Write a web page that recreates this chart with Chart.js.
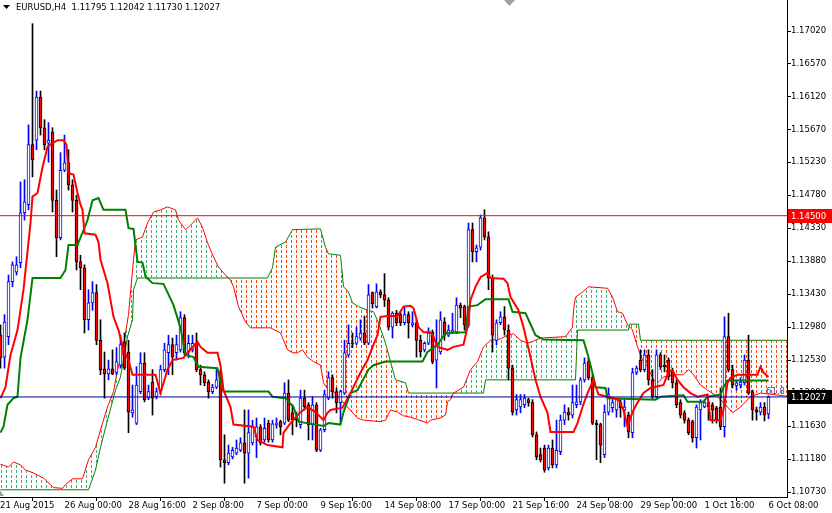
<!DOCTYPE html>
<html>
<head>
<meta charset="utf-8">
<script src="https://cdn.jsdelivr.net/npm/chart.js@4.4.1/dist/chart.umd.min.js"></script>
<style>
  html, body { margin: 0; padding: 0; background: #fff; }
  #c { display: block; }
</style>
</head>
<body>
<canvas id="c" width="832" height="513"></canvas>
<script>
(function () {
  'use strict';

  // ── Data (EURUSD H4, one entry per bar) ──────────────────
  var SYMBOL = 'EURUSD,H4';

  var opens = [
    1.1287, 1.1257, 1.1285, 1.1360, 1.1373, 1.1386, 1.1454, 1.1465, 1.1547, 1.1553,
    1.1612, 1.1570, 1.1549, 1.1564, 1.1471, 1.1420, 1.1512, 1.1522, 1.1492, 1.1471,
    1.1387, 1.1379, 1.1308, 1.1331, 1.1345, 1.1280, 1.1241, 1.1234, 1.1241, 1.1236,
    1.1246, 1.1278, 1.1264, 1.1181, 1.1167, 1.1210, 1.1249, 1.1201, 1.1223, 1.1203,
    1.1210, 1.1240, 1.1263, 1.1274, 1.1263, 1.1267, 1.1311, 1.1264, 1.1267, 1.1276,
    1.1240, 1.1233, 1.1223, 1.1210, 1.1216, 1.1237, 1.1117, 1.1113, 1.1121, 1.1126,
    1.1130, 1.1140, 1.1126, 1.1140, 1.1148, 1.1162, 1.1144, 1.1167, 1.1144, 1.1165,
    1.1169, 1.1167, 1.1208, 1.1181, 1.1174, 1.1165, 1.1201, 1.1192, 1.1165, 1.1192,
    1.1130, 1.1158, 1.1201, 1.1229, 1.1210, 1.1195, 1.1208, 1.1260, 1.1276, 1.1276,
    1.1283, 1.1290, 1.1276, 1.1345, 1.1326, 1.1346, 1.1342, 1.1335, 1.1298, 1.1317,
    1.1315, 1.1304, 1.1315, 1.1301, 1.1304, 1.1280, 1.1267, 1.1276, 1.1291, 1.1253,
    1.1264, 1.1305, 1.1287, 1.1291, 1.1291, 1.1328, 1.1326, 1.1301, 1.1431, 1.1401,
    1.1407, 1.1447, 1.1421, 1.1365, 1.1280, 1.1304, 1.1312, 1.1294, 1.1242, 1.1185,
    1.1189, 1.1192, 1.1199, 1.1195, 1.1151, 1.1124, 1.1133, 1.1106, 1.1133, 1.1110,
    1.1128, 1.1171, 1.1182, 1.1178, 1.1192, 1.1196, 1.1226, 1.1251, 1.1229, 1.1167,
    1.1165, 1.1124, 1.1182, 1.1188, 1.1185, 1.1195, 1.1185, 1.1178, 1.1154, 1.1236,
    1.1253, 1.1240, 1.1260, 1.1226, 1.1203, 1.1260, 1.1246, 1.1253, 1.1237, 1.1222,
    1.1195, 1.1181, 1.1171, 1.1169, 1.1147, 1.1185, 1.1189, 1.1195, 1.1192, 1.1188,
    1.1189, 1.1162, 1.1285, 1.1240, 1.1218, 1.1219, 1.1222, 1.1253, 1.1210, 1.1185,
    1.1182, 1.1189, 1.11795
  ];
  var highs = [
    1.1301, 1.1315, 1.1369, 1.1387, 1.1394, 1.1496, 1.1499, 1.1574, 1.1712, 1.1620,
    1.1620, 1.1581, 1.1577, 1.1570, 1.1485, 1.1536, 1.1560, 1.1540, 1.1499, 1.1478,
    1.1396, 1.1383, 1.1349, 1.1360, 1.1356, 1.1308, 1.1264, 1.1253, 1.1267, 1.1270,
    1.1287, 1.1290, 1.1280, 1.1219, 1.1244, 1.1263, 1.1263, 1.1219, 1.1240, 1.1215,
    1.1246, 1.1276, 1.1287, 1.1283, 1.1287, 1.1319, 1.1315, 1.1287, 1.1287, 1.1290,
    1.1246, 1.1237, 1.1226, 1.1220, 1.1240, 1.1240, 1.1151, 1.1137, 1.1134, 1.1144,
    1.1147, 1.1185, 1.1185, 1.1171, 1.1174, 1.1165, 1.1174, 1.1171, 1.1171, 1.1174,
    1.1171, 1.1222, 1.1226, 1.1192, 1.1182, 1.1212, 1.1212, 1.1195, 1.1203, 1.1195,
    1.1160, 1.1212, 1.1237, 1.1233, 1.1215, 1.1212, 1.1280, 1.1301, 1.1290, 1.1298,
    1.1308, 1.1313, 1.1356, 1.1346, 1.1357, 1.1349, 1.1371, 1.1338, 1.1319, 1.1321,
    1.1319, 1.1326, 1.1319, 1.1319, 1.1308, 1.1287, 1.1278, 1.1297, 1.1294, 1.1308,
    1.1319, 1.1311, 1.1301, 1.1317, 1.1338, 1.1331, 1.1328, 1.1440, 1.1440, 1.1410,
    1.1451, 1.1458, 1.1428, 1.1369, 1.1308, 1.1319, 1.1326, 1.1301, 1.1246, 1.1206,
    1.1206, 1.1206, 1.1201, 1.1199, 1.1155, 1.1133, 1.1137, 1.1137, 1.1144, 1.1171,
    1.1178, 1.1192, 1.1188, 1.1219, 1.1219, 1.1229, 1.1256, 1.1256, 1.1233, 1.1171,
    1.1167, 1.1192, 1.1215, 1.1199, 1.1201, 1.1199, 1.1199, 1.1182, 1.1242, 1.1245,
    1.1267, 1.1267, 1.1267, 1.1240, 1.1267, 1.1263, 1.1260, 1.1256, 1.1242, 1.1226,
    1.1199, 1.1184, 1.1174, 1.1171, 1.1192, 1.1199, 1.1199, 1.1197, 1.1195, 1.1190,
    1.1215, 1.1312, 1.1317, 1.1246, 1.1226, 1.1229, 1.1260, 1.1287, 1.1212, 1.1189,
    1.1195, 1.1195, 1.12042
  ];
  var lows = [
    1.1242, 1.1242, 1.1274, 1.1353, 1.1369, 1.1379, 1.1444, 1.1458, 1.1503, 1.1540,
    1.1560, 1.1540, 1.1523, 1.1455, 1.1394, 1.1417, 1.1510, 1.1485, 1.1455, 1.1376,
    1.1349, 1.1290, 1.1294, 1.1321, 1.1274, 1.1233, 1.1201, 1.1226, 1.1233, 1.1233,
    1.1242, 1.1240, 1.1154, 1.1175, 1.1165, 1.1207, 1.1196, 1.1199, 1.1178, 1.1200,
    1.1206, 1.1237, 1.1233, 1.1233, 1.1253, 1.1264, 1.1260, 1.1256, 1.1264, 1.1237,
    1.1219, 1.1218, 1.1201, 1.1207, 1.1214, 1.1107, 1.1085, 1.1110, 1.1118, 1.1124,
    1.1128, 1.1085, 1.1092, 1.1137, 1.1120, 1.1137, 1.1141, 1.1141, 1.1141, 1.1160,
    1.1151, 1.1165, 1.1169, 1.1151, 1.1162, 1.1160, 1.1185, 1.1144, 1.1144, 1.1128,
    1.1128, 1.1155, 1.1199, 1.1201, 1.1181, 1.1167, 1.1206, 1.1257, 1.1270, 1.1274,
    1.1280, 1.1274, 1.1274, 1.1324, 1.1324, 1.1338, 1.1326, 1.1294, 1.1283, 1.1300,
    1.1300, 1.1301, 1.1283, 1.1298, 1.1257, 1.1257, 1.1264, 1.1274, 1.1248, 1.1215,
    1.1261, 1.1280, 1.1285, 1.1289, 1.1289, 1.1311, 1.1294, 1.1298, 1.1387, 1.1387,
    1.1403, 1.1417, 1.1349, 1.1264, 1.1274, 1.1301, 1.1287, 1.1226, 1.1178, 1.1178,
    1.1181, 1.1188, 1.1190, 1.1148, 1.1117, 1.1114, 1.1100, 1.1103, 1.1106, 1.1106,
    1.1124, 1.1165, 1.1171, 1.1174, 1.1188, 1.1192, 1.1223, 1.1226, 1.1165, 1.1117,
    1.1113, 1.1120, 1.1178, 1.1182, 1.1175, 1.1175, 1.1162, 1.1147, 1.1147, 1.1233,
    1.1237, 1.1237, 1.1219, 1.1199, 1.1199, 1.1240, 1.1237, 1.1226, 1.1215, 1.1188,
    1.1174, 1.1167, 1.1151, 1.1141, 1.1133, 1.1144, 1.1188, 1.1171, 1.1167, 1.1167,
    1.1158, 1.1148, 1.1237, 1.1215, 1.1212, 1.1215, 1.1219, 1.1206, 1.1171, 1.1171,
    1.1178, 1.1170, 1.11730
  ];
  var closes = [
    1.1256, 1.1305, 1.1360, 1.1383, 1.1383, 1.1454, 1.1469, 1.1547, 1.1526, 1.1612,
    1.1570, 1.1547, 1.1553, 1.1471, 1.1420, 1.1512, 1.1522, 1.1492, 1.1471, 1.1387,
    1.1379, 1.1308, 1.1331, 1.1345, 1.1280, 1.1240, 1.1234, 1.1241, 1.1234, 1.1251,
    1.1274, 1.1242, 1.1182, 1.1185, 1.1219, 1.1249, 1.1199, 1.1210, 1.1201, 1.1210,
    1.1240, 1.1267, 1.1274, 1.1257, 1.1274, 1.1311, 1.1263, 1.1276, 1.1276, 1.1240,
    1.1233, 1.1222, 1.1210, 1.1216, 1.1226, 1.1117, 1.1113, 1.1126, 1.1130, 1.1133,
    1.1140, 1.1126, 1.1154, 1.1162, 1.1162, 1.1140, 1.1160, 1.1144, 1.1166, 1.1167,
    1.1162, 1.1208, 1.1171, 1.1171, 1.1171, 1.1201, 1.1189, 1.1165, 1.1192, 1.1130,
    1.1158, 1.1206, 1.1229, 1.1210, 1.1195, 1.1210, 1.1263, 1.1276, 1.1275, 1.1285,
    1.1290, 1.1276, 1.1342, 1.1330, 1.1346, 1.1342, 1.1335, 1.1298, 1.1317, 1.1304,
    1.1304, 1.1315, 1.1304, 1.1304, 1.1280, 1.1264, 1.1276, 1.1290, 1.1251, 1.1276,
    1.1308, 1.1287, 1.1294, 1.1294, 1.1328, 1.1324, 1.1301, 1.1431, 1.1401, 1.1406,
    1.1447, 1.1421, 1.1365, 1.1287, 1.1304, 1.1312, 1.1294, 1.1242, 1.1182, 1.1199,
    1.1199, 1.1201, 1.1195, 1.1151, 1.1121, 1.1117, 1.1103, 1.1133, 1.1110, 1.1130,
    1.1171, 1.1182, 1.1178, 1.1195, 1.1196, 1.1226, 1.1249, 1.1229, 1.1167, 1.1165,
    1.1137, 1.1182, 1.1206, 1.1195, 1.1199, 1.1188, 1.1189, 1.1155, 1.1236, 1.1242,
    1.1240, 1.1260, 1.1226, 1.1203, 1.1260, 1.1244, 1.1244, 1.1230, 1.1222, 1.1192,
    1.1178, 1.1171, 1.1154, 1.1147, 1.1189, 1.1195, 1.1195, 1.1189, 1.1185, 1.1171,
    1.1162, 1.1285, 1.1240, 1.1219, 1.1222, 1.1223, 1.1253, 1.1208, 1.1185, 1.1182,
    1.1189, 1.1178, 1.12027
  ];

  // Ichimoku lines as [bar, price] vertices
  var tenkan = [
    [0, 1.1201], [1.25, 1.1216], [2.5, 1.1260], [4.25, 1.1294], [5.75, 1.1349], [7.5, 1.1440],
    [8, 1.1476], [9.25, 1.1481], [10.5, 1.1516], [11.75, 1.1544], [13, 1.1549], [14.25, 1.1553],
    [15.75, 1.1553], [16.5, 1.1547], [17, 1.1508], [18.25, 1.1506], [19.25, 1.1481], [20, 1.1465],
    [20.5, 1.1458], [21, 1.1426], [23.75, 1.1424], [24.5, 1.1414], [25, 1.1390], [26.75, 1.1358],
    [28.25, 1.1312], [29.5, 1.1294], [30.75, 1.1267], [32, 1.1253], [33, 1.1233], [38.75, 1.1233],
    [40, 1.1208], [41.75, 1.1240], [43, 1.1253], [45.75, 1.1256], [46.75, 1.1263], [49.25, 1.1278],
    [50, 1.1271], [51.75, 1.1263], [54.25, 1.1263], [55, 1.1246], [55.75, 1.1212], [57.5, 1.1189],
    [58.25, 1.1165], [63.25, 1.1162], [64.25, 1.1144], [66.75, 1.1137], [70.5, 1.1134], [70.75, 1.1154],
    [72.5, 1.1167], [75, 1.1182], [76.75, 1.1189], [78.75, 1.1182], [80.75, 1.1171], [81.75, 1.1181],
    [82.5, 1.1185], [85.5, 1.1188], [87.5, 1.1208], [90, 1.1236], [91.75, 1.1253], [93.25, 1.1274],
    [94.25, 1.1287], [95, 1.1312], [96.75, 1.1313], [99.25, 1.1313], [100.75, 1.1326], [102.5, 1.1327],
    [103.25, 1.1324], [104.5, 1.1298], [105.75, 1.1291], [107.5, 1.1291], [108.25, 1.1285], [109.25, 1.1271],
    [111.75, 1.1267], [113.25, 1.1271], [115.75, 1.1274], [116.75, 1.1298], [117.5, 1.1335], [118.75, 1.1353],
    [120, 1.1366], [121.75, 1.1372], [122.5, 1.1365], [125.75, 1.1364], [126.75, 1.1358], [127.5, 1.1339],
    [129.5, 1.1321], [130.75, 1.1298], [132.5, 1.1257], [133.75, 1.1226], [135, 1.1203], [136.75, 1.1181],
    [137.5, 1.1155], [143.25, 1.1155], [144.25, 1.1167], [145.5, 1.1189], [146.75, 1.1208], [148.25, 1.1226],
    [149.5, 1.1206], [151.75, 1.1203], [154.5, 1.1199], [155.75, 1.1185], [156.75, 1.1162], [158, 1.1182],
    [159.25, 1.1195], [160.75, 1.1208], [162.5, 1.1215], [165.75, 1.1219], [167, 1.1237], [168, 1.1239],
    [169.25, 1.1226], [170.75, 1.1216], [172.5, 1.1208], [174.25, 1.1203], [176.75, 1.1206], [177.5, 1.1171],
    [180, 1.1171], [180.75, 1.1185], [181.75, 1.1222], [182.5, 1.1229], [184.25, 1.1233], [189.25, 1.1233],
    [190, 1.1244], [190.75, 1.1236], [192, 1.1230]
  ];
  var kijun = [
    [0, 1.1154], [0.75, 1.1162], [1.75, 1.1192], [3.25, 1.1201], [4.25, 1.1203], [5, 1.1256],
    [6.75, 1.1308], [8, 1.1365], [15, 1.1365], [16.25, 1.1376], [17, 1.1410], [19.25, 1.1410],
    [21.75, 1.1444], [23, 1.1471], [24.5, 1.1474], [25.75, 1.1458], [31.25, 1.1458], [32, 1.1433],
    [33.25, 1.1432], [34.25, 1.1387], [35.5, 1.1386], [36.25, 1.1367], [38, 1.1358], [40.75, 1.1357],
    [43.25, 1.1328], [45, 1.1297], [46.25, 1.1260], [48.25, 1.1257], [49.5, 1.1244], [54.25, 1.1242],
    [55, 1.1223], [55.75, 1.1210], [67, 1.1210], [68, 1.1203], [71.25, 1.1201], [73.25, 1.1189],
    [74.5, 1.1169], [80.75, 1.1163], [82, 1.1167], [85, 1.1165], [85.75, 1.1182], [87.5, 1.1208],
    [89.25, 1.1212], [92, 1.1240], [93.25, 1.1246], [96.25, 1.1251], [105.5, 1.1251], [106.75, 1.1264],
    [109.25, 1.1274], [111.25, 1.1290], [116.25, 1.1291], [117, 1.1326], [119.25, 1.1328], [121.25, 1.1336],
    [127, 1.1336], [128, 1.1319], [131.25, 1.1317], [132, 1.1308], [133.75, 1.1287], [135.75, 1.1281],
    [145.75, 1.1280], [147, 1.1257], [148.25, 1.1230], [148.75, 1.1216], [151.25, 1.1215], [151.75, 1.1201],
    [163.75, 1.1199], [165, 1.1203], [170.75, 1.1205], [171.75, 1.1196], [175.75, 1.1196], [176.75, 1.1203],
    [180, 1.1206], [180.75, 1.1216], [181.75, 1.1225], [192, 1.1225]
  ];
  var spanA = [
    [0, 1.1111], [2, 1.1107], [3.25, 1.1114], [5, 1.1110], [6.25, 1.1103], [8.25, 1.1099],
    [10.75, 1.1092], [12.5, 1.1083], [13.25, 1.1079], [15.5, 1.1078], [16.25, 1.1083], [18, 1.1091],
    [20.5, 1.1091], [22, 1.1117], [23.75, 1.1134], [25.5, 1.1167], [26.75, 1.1189], [28.25, 1.1210],
    [29.25, 1.1240], [30.5, 1.1263], [31.25, 1.1290], [32, 1.1315], [33.25, 1.1390], [33.75, 1.1417],
    [35.5, 1.1421], [36.75, 1.1440], [38.25, 1.1455], [40, 1.1458], [41.75, 1.1462], [43.75, 1.1458],
    [44.5, 1.1444], [46.25, 1.1431], [47.5, 1.1437], [49.25, 1.1447], [50.5, 1.1434], [51.75, 1.1413],
    [53.25, 1.1394], [54.5, 1.1380], [55.75, 1.1372], [57.5, 1.1362], [58.25, 1.1353], [59.5, 1.1326],
    [61.25, 1.1305], [62.5, 1.1297], [67.5, 1.1297], [70, 1.1290], [71.75, 1.1267], [73, 1.1263],
    [74.25, 1.1263], [75.5, 1.1267], [76.75, 1.1257], [78.25, 1.1251], [80, 1.1246], [80.75, 1.1222],
    [82, 1.1212], [83.25, 1.1210], [86.25, 1.1192], [89.25, 1.1174], [90.75, 1.1171], [95, 1.1169],
    [96.25, 1.1171], [97.5, 1.1185], [99.25, 1.1182], [100.75, 1.1177], [102.5, 1.1175], [104.25, 1.1172],
    [106.75, 1.1167], [107.5, 1.1171], [110, 1.1174], [111.25, 1.1178], [111.75, 1.1196], [112.5, 1.1199],
    [113.25, 1.1208], [115.75, 1.1216], [117.5, 1.1240], [119.25, 1.1251], [120.75, 1.1271], [122.5, 1.1280],
    [125, 1.1282], [126.75, 1.1287], [128.25, 1.1289], [130, 1.1280], [131.75, 1.1276], [133.25, 1.1279],
    [135, 1.1283], [141.25, 1.1285], [143, 1.1298], [143.25, 1.1321], [143.75, 1.1339], [145.5, 1.1346],
    [147, 1.1353], [151.75, 1.1351], [153, 1.1339], [154.25, 1.1319], [155.5, 1.1317], [156.75, 1.1301],
    [158, 1.1294], [159.25, 1.1271], [160.5, 1.1253], [161.75, 1.1244], [163.25, 1.1226], [164.5, 1.1223],
    [165.75, 1.1230], [168.25, 1.1233], [170.75, 1.1233], [172, 1.1240], [173.25, 1.1233], [175, 1.1219],
    [176.75, 1.1212], [179.25, 1.1203], [181.75, 1.1189], [183, 1.1181], [185, 1.1189], [187.5, 1.1203],
    [190, 1.1208], [193.25, 1.1206], [197.5, 1.1203]
  ];
  var spanB = [
    [0, 1.1076], [22, 1.1076], [23.75, 1.1103], [25, 1.1134], [26.75, 1.1171], [28.75, 1.1212],
    [30, 1.1230], [31.75, 1.1285], [33, 1.1308], [33.25, 1.1349], [34.25, 1.1365], [66.75, 1.1365],
    [68, 1.1379], [68.75, 1.1407], [71.25, 1.1414], [73, 1.1431], [80, 1.1432], [81.25, 1.1407],
    [82, 1.1398], [85, 1.1396], [85.75, 1.1353], [87, 1.1346], [88, 1.1331], [89.5, 1.1326],
    [91.75, 1.1321], [93.25, 1.1319], [94.5, 1.1304], [96.25, 1.1276], [97.5, 1.1251], [98.75, 1.1226],
    [101.25, 1.1222], [102, 1.1208], [120.75, 1.1208], [121.25, 1.1226], [143.75, 1.1226], [144.25, 1.1294],
    [157, 1.1294], [157.25, 1.1302], [159.5, 1.1302], [160, 1.1280], [197.5, 1.1280]
  ];

  var yTicks = [1.17020, 1.16570, 1.16120, 1.15670, 1.15230, 1.14780, 1.14330, 1.13880,
                1.13430, 1.12980, 1.12530, 1.12080, 1.11630, 1.11180, 1.10730];
  var xTickPos = [-0.125, 16, 32, 48, 64, 80, 96, 112, 128, 144, 160, 176, 192];
  var xTickLabels = ['21 Aug 2015', '26 Aug 00:00', '28 Aug 16:00', '2 Sep 08:00', '7 Sep 00:00',
                     '9 Sep 16:00', '14 Sep 08:00', '17 Sep 00:00', '21 Sep 16:00', '24 Sep 08:00',
                     '29 Sep 00:00', '1 Oct 16:00', '6 Oct 08:00'];

  var resistance = 1.14500;   // red horizontal line
  var fibLevel = 1.12027;     // blue horizontal line
  var fibText = '61.8';

  // ── Look ─────────────────────────────────────────────────
  var FONT_FAMILY = "'DejaVu Sans', Tahoma, sans-serif";
  var FONT_SIZE = 8.5;
  var C = {
    bull: '#0000FF',
    bear: '#000000',
    bearFill: '#FF0000',
    tenkan: '#FF0000',
    kijun: '#008000',
    spanA: '#FF0000',
    spanB: '#008000',
    cloudUp: '#3CB371',
    cloudDown: '#FF4500',
    fib: '#000099'
  };

  var X_MIN = -0.125;
  var X_MAX = X_MIN + 787 / 4;
  var Y_MAX = 1.17443;
  var Y_MIN = Y_MAX - 497 * 0.00013644;

  var canvas = document.getElementById('c');
  var ctx = canvas.getContext('2d');

  // dotted cloud hatch: 1px columns every 5px, 3px dash / 2px gap
  function dotPattern(color) {
    var p = document.createElement('canvas');
    p.width = 5;
    p.height = 5;
    var g = p.getContext('2d');
    g.fillStyle = color;
    g.fillRect(1, 0, 1, 3);
    return ctx.createPattern(p, 'repeat');
  }

  function toXY(pairs) {
    return pairs.map(function (p) { return { x: p[0], y: p[1] }; });
  }

  function isUp(i) {
    return closes[i] >= opens[i];
  }

  var wicks = opens.map(function (o, i) { return { x: i, y: [lows[i], highs[i]] }; });
  var bodies = opens.map(function (o, i) { return { x: i, y: [opens[i], closes[i]] }; });
  var last = closes.length - 1;

  function lineSet(data, color, width, order, extra) {
    var ds = {
      type: 'line',
      data: data,
      borderColor: color,
      borderWidth: width,
      pointRadius: 0,
      tension: 0,
      fill: false,
      order: order
    };
    for (var k in extra || {}) ds[k] = extra[k];
    return ds;
  }

  function priceBox(c, y, bg, text) {
    c.fillStyle = bg;
    c.fillRect(788, Math.round(y) - 7, 44, 14);
    c.fillStyle = '#fff';
    c.textAlign = 'left';
    c.textBaseline = 'middle';
    c.fillText(text, 791, Math.round(y) + 0.5);
  }

  // header, price tags and marker triangles
  var overlay = {
    id: 'overlay',
    afterDraw: function (chart) {
      var c = chart.ctx;
      var ys = chart.scales.y;
      var area = chart.chartArea;
      c.save();
      c.font = FONT_SIZE + 'px ' + FONT_FAMILY;

      // fib label above its line
      c.fillStyle = '#2A4FB0';
      c.textAlign = 'right';
      c.textBaseline = 'bottom';
      c.fillText(fibText, area.right - 2, ys.getPixelForValue(fibLevel) - 0.5);

      priceBox(c, ys.getPixelForValue(resistance), '#FF0000', resistance.toFixed(5));
      priceBox(c, ys.getPixelForValue(closes[last]), '#000000', closes[last].toFixed(5));

      // header
      c.fillStyle = '#000';
      c.beginPath();
      c.moveTo(3, 5); c.lineTo(10, 5); c.lineTo(6.5, 9); c.closePath();
      c.fill();
      c.textAlign = 'left';
      c.textBaseline = 'middle';
      var vals = [opens[last], highs[last], lows[last], closes[last]].map(function (v) { return v.toFixed(5); });
      c.fillText(SYMBOL + '  ' + vals.join(' '), 16, 8);

      // chart shift markers
      c.fillStyle = '#A0A0A0';
      c.beginPath();
      c.moveTo(504, 0); c.lineTo(515, 0); c.lineTo(509.5, 6); c.closePath();
      c.fill();
      c.beginPath();
      c.moveTo(0, 490); c.lineTo(4, 496); c.lineTo(0, 496); c.closePath();
      c.fill();
      c.restore();
    }
  };

  Chart.defaults.font.family = FONT_FAMILY;
  Chart.defaults.font.size = FONT_SIZE;
  Chart.defaults.color = '#000';

  new Chart(ctx, {
    type: 'bar',
    data: {
      datasets: [
        lineSet(toXY(spanA), C.spanA, 1, 6, {
          fill: { target: '+1', above: dotPattern(C.cloudUp), below: dotPattern(C.cloudDown) }
        }),
        lineSet(toXY(spanB), C.spanB, 1, 6),
        {
          type: 'bar',
          data: wicks,
          barThickness: 1,
          grouped: false,
          backgroundColor: function (c) { return isUp(c.dataIndex) ? C.bull : C.bear; },
          order: 4
        },
        {
          type: 'bar',
          data: bodies,
          barThickness: 3,
          grouped: false,
          borderWidth: 1,
          borderSkipped: false,
          borderColor: function (c) { return isUp(c.dataIndex) ? C.bull : C.bear; },
          backgroundColor: function (c) { return isUp(c.dataIndex) ? '#FFFFFF' : C.bearFill; },
          order: 3
        },
        lineSet(toXY(kijun), C.kijun, 2, 2),
        lineSet(toXY(tenkan), C.tenkan, 2, 1),
        lineSet([{ x: X_MIN, y: resistance }, { x: X_MAX, y: resistance }], '#FF0000', 1, 0),
        lineSet([{ x: X_MIN, y: fibLevel }, { x: X_MAX, y: fibLevel }], C.fib, 1, 0)
      ]
    },
    options: {
      responsive: false,
      animation: false,
      events: [],
      layout: { padding: 0 },
      plugins: {
        legend: { display: false },
        tooltip: { enabled: false },
        title: { display: false }
      },
      scales: {
        x: {
          type: 'linear',
          position: 'bottom',
          min: X_MIN,
          max: X_MAX,
          offset: false,
          grid: { drawOnChartArea: false, drawTicks: true, tickLength: 4, color: '#000' },
          border: { color: '#000', width: 1 },
          ticks: {
            autoSkip: false,
            maxRotation: 0,
            minRotation: 0,
            align: 'start',
            padding: 0,
            color: '#000',
            callback: function (v, i) { return xTickLabels[i]; }
          },
          afterBuildTicks: function (s) {
            s.ticks = xTickPos.map(function (v) { return { value: v }; });
          },
          afterFit: function (s) {
            s.height = 16;
            s.paddingLeft = 0;
            s.paddingRight = 0;
          }
        },
        y: {
          type: 'linear',
          position: 'right',
          min: Y_MIN,
          max: Y_MAX,
          grid: { drawOnChartArea: false, drawTicks: true, tickLength: 4, color: '#000' },
          border: { color: '#000', width: 1 },
          ticks: {
            padding: 0,
            color: '#000',
            callback: function (v) { return v.toFixed(5); }
          },
          afterBuildTicks: function (s) {
            s.ticks = yTicks.map(function (v) { return { value: v }; });
          },
          afterFit: function (s) {
            s.width = 45;
            s.paddingTop = 0;
            s.paddingBottom = 0;
          }
        }
      }
    },
    plugins: [overlay]
  });
})();
</script>
</body>
</html>
